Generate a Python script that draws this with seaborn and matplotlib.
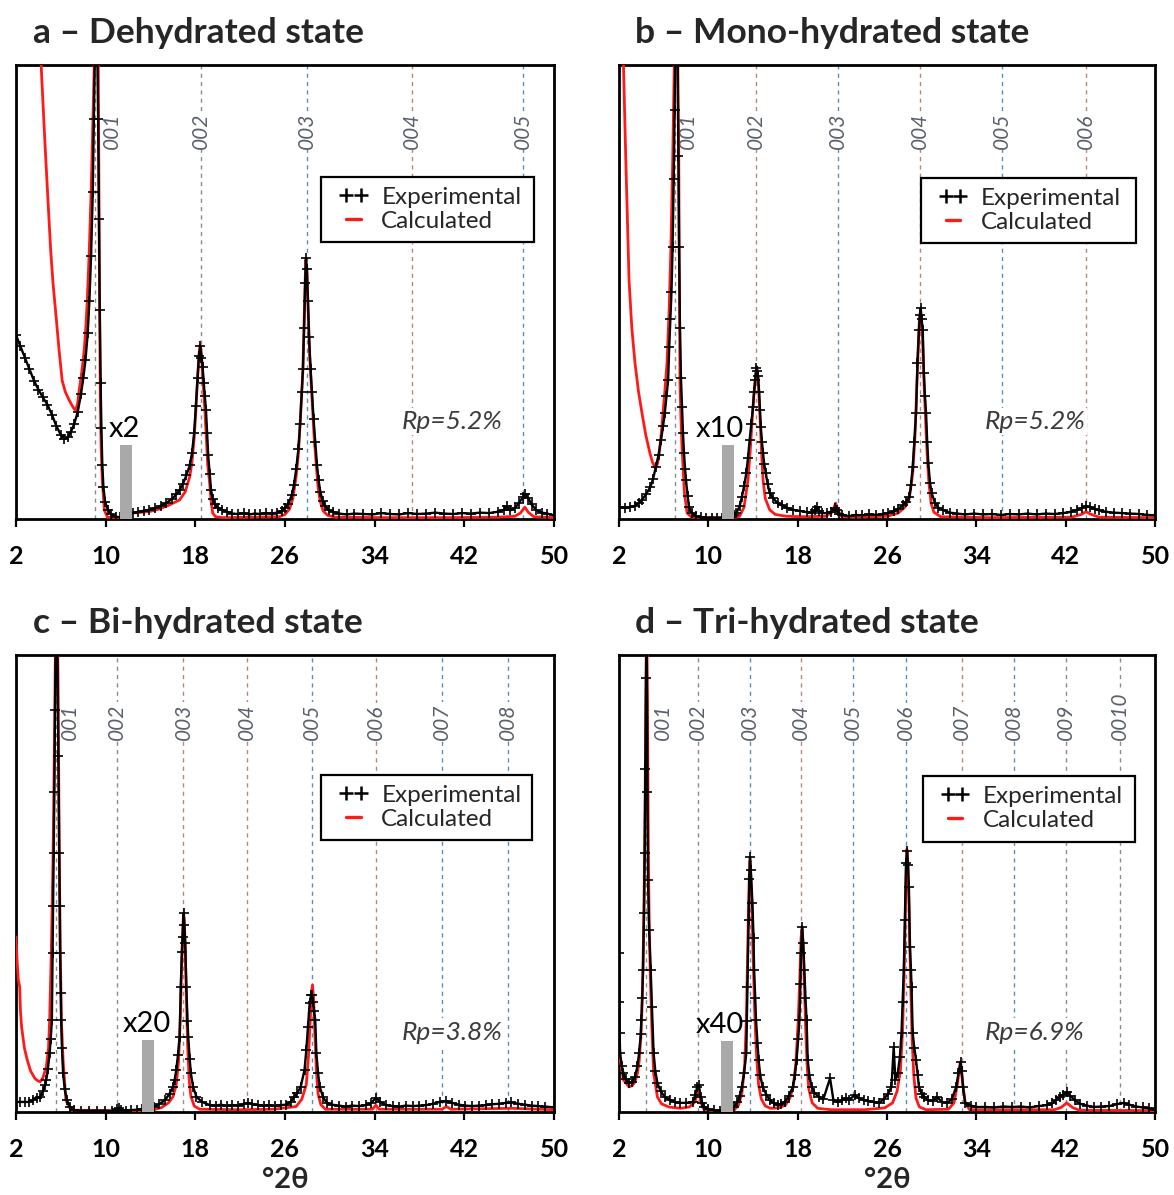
import matplotlib
matplotlib.use("Agg")
import matplotlib.pyplot as plt
from matplotlib.lines import Line2D
from matplotlib.patches import Rectangle
import seaborn as sns

# ---------------------------------------------------------------------------
# XRD profiles, °2θ versus intensity (percent of the panel height).
# ---------------------------------------------------------------------------

# a - dehydrated
a_exp_x = [2.0, 2.4, 2.8, 3.2, 3.6, 4.0, 4.4, 4.8, 5.2, 5.6, 6.0, 6.3, 6.6, 6.9, 7.2, 7.5, 7.8, 8.0,
           8.2, 8.4, 8.55, 8.7, 8.85, 8.95, 9.05, 9.15, 9.25, 9.33, 9.4, 9.47, 9.55, 9.62, 9.7, 9.8,
           9.95, 10.2, 10.5, 10.9, 11.3,
           12.4, 12.9, 13.4, 13.9, 14.4, 14.9, 15.4, 15.9, 16.3, 16.6, 16.9, 17.2, 17.5, 17.7, 17.9,
           18.05, 18.2, 18.32, 18.45, 18.55, 18.65, 18.75, 18.85, 18.95, 19.05, 19.15, 19.28, 19.4,
           19.55, 19.75, 20.0, 20.4, 20.8, 21.3, 21.8, 22.3, 22.8, 23.3, 23.8, 24.3, 24.8, 25.3, 25.7,
           26.0, 26.3, 26.6, 26.8, 27.0, 27.2, 27.35, 27.5, 27.6, 27.7, 27.8, 27.87, 27.95, 28.05,
           28.15, 28.28, 28.4, 28.55, 28.7, 28.85, 29.0, 29.15, 29.35, 29.6, 29.9, 30.3, 30.8, 31.5,
           32.2, 33.0, 33.8, 34.6, 35.4, 36.2, 37.0, 37.8, 38.6, 39.4, 40.2, 41.0, 41.8, 42.6, 43.4,
           44.2, 45.0, 45.5, 45.8, 46.1, 46.5, 46.9, 47.2, 47.45, 47.7, 48.0, 48.4, 48.9, 49.4, 50.0]
a_exp_y = [40.5, 38.0, 35.5, 33.0, 30.5, 28.5, 26.8, 25.2, 23.0, 20.5, 18.5, 17.6, 18.0, 19.2, 21.0,
           23.5, 27.5, 31.0, 35.0, 41.0, 48.0, 58.0, 72.0, 88.0, 105.0, 112.0, 104.0, 88.0, 66.0,
           46.0, 30.0, 20.0, 12.0, 7.0, 3.8, 2.0, 1.0, 0.5, 0.4,
           1.3, 1.6, 1.8, 2.0, 2.4, 2.9, 3.5, 4.4, 5.4, 6.4, 7.8, 9.6, 11.8, 14.5, 19.0, 25.0, 31.0,
           36.0, 38.0, 35.5, 33.5, 30.0, 27.0, 24.0, 19.0, 14.0, 10.0, 6.4, 4.5, 3.2, 2.5, 2.0, 1.6,
           1.2, 1.1, 1.3, 1.0, 1.2, 1.1, 1.3, 1.2, 1.4, 1.8, 2.4, 3.4, 5.2, 7.5, 11.0, 15.5, 21.0,
           28.0, 33.0, 42.0, 52.0, 57.5, 55.0, 48.0, 40.0, 33.0, 28.0, 22.0, 17.0, 12.0, 8.5, 6.0,
           4.0, 2.8, 2.0, 1.5, 1.2, 1.0, 1.2, 1.1, 1.0, 1.3, 1.1, 1.0, 1.3, 1.1, 1.2, 1.4, 1.2, 1.1,
           1.3, 1.2, 1.4, 1.3, 1.6, 2.0, 2.8, 1.9, 2.4, 3.6, 4.8, 5.4, 4.6, 3.2, 2.0, 1.4, 1.2, 0.8]
a_calc_x = [3.8, 4.1, 4.3, 4.6, 4.9, 5.1, 5.3, 5.58, 5.85, 6.12, 6.4, 6.74, 7.0, 7.2, 7.34, 7.5, 7.64,
            7.85, 8.09, 8.25, 8.36, 8.54, 8.7, 8.8, 8.98, 9.1, 9.22, 9.34, 9.43, 9.52, 9.6, 9.7, 9.88,
            10.15, 10.6, 11.3,
            12.3, 12.8, 13.3, 14.0, 14.8, 15.6, 16.6, 17.1, 17.5, 17.7, 17.9, 18.05, 18.2, 18.32,
            18.42, 18.5, 18.6, 18.7, 18.85, 18.98, 19.1, 19.28, 19.4, 19.55, 19.8, 20.5, 25.5, 26.0,
            26.4, 26.7, 27.0, 27.2, 27.4, 27.6, 27.75, 27.85, 27.95, 28.05, 28.2, 28.4, 28.6, 28.77,
            28.95, 29.13, 29.4, 29.8, 30.5, 35.0, 40.0, 45.0, 46.5, 47.0, 47.4, 47.7, 48.2, 50.0]
a_calc_y = [125.0, 108.0, 97.0, 82.0, 68.0, 59.0, 52.0, 44.5, 37.0, 30.5, 28.0, 26.2, 25.0, 24.2,
            24.0, 25.5, 28.4, 32.0, 37.2, 43.0, 48.2, 59.3, 72.0, 81.3, 100.0, 115.0, 110.0, 100.0,
            59.0, 26.0, 15.0, 8.6, 2.0, 0.4, 0.3, 0.3,
            1.3, 1.4, 1.5, 1.7, 2.2, 3.0, 4.2, 6.0, 9.3, 12.5, 18.0, 24.0, 31.0, 36.0, 38.3, 37.5,
            34.0, 30.0, 24.0, 18.0, 12.0, 7.9, 4.0, 1.3, 0.5, 0.3, 0.5, 1.0, 2.2, 4.5, 9.5, 14.5,
            23.3, 33.0, 48.0, 57.0, 55.0, 47.0, 36.0, 27.0, 18.0, 12.5, 7.0, 4.0, 1.8, 0.8, 0.4, 0.3,
            0.3, 0.4, 0.6, 1.3, 2.6, 1.5, 0.5, 0.3]

# b - mono-hydrated
b_exp_x = [2.0, 2.5, 3.0, 3.4, 3.8, 4.06, 4.4, 4.8, 5.05, 5.3, 5.55, 5.76, 5.95, 6.1, 6.25, 6.4, 6.5,
           6.6, 6.7, 6.8, 6.9, 6.98, 7.05, 7.15, 7.25, 7.32, 7.38, 7.46, 7.55, 7.64, 7.73, 7.82, 7.92,
           8.0, 8.15, 8.27, 8.5, 8.9, 9.3, 9.8, 10.3, 10.8, 11.2,
           12.3, 12.5, 12.8, 13.0, 13.2, 13.4, 13.55, 13.7, 13.85, 14.0, 14.1, 14.2, 14.3, 14.38,
           14.45, 14.55, 14.62, 14.7, 14.8, 14.9, 15.0, 15.15, 15.3, 15.5, 15.8, 16.2, 16.6, 17.0,
           17.6, 18.2, 18.8, 19.3, 19.55, 19.7, 19.9, 20.2, 20.6, 21.0, 21.3, 21.5, 21.7, 22.0, 22.6,
           23.2, 23.8, 24.4, 25.0, 25.6, 26.1, 26.6, 27.0, 27.4, 27.7, 28.0, 28.15, 28.3, 28.45,
           28.6, 28.73, 28.86, 28.95, 29.02, 29.1, 29.2, 29.3, 29.4, 29.5, 29.6, 29.7, 29.85, 30.0,
           30.3, 30.6, 31.0, 31.6, 32.3, 33.0, 33.8, 34.6, 35.4, 36.2, 37.0, 37.8, 38.6, 39.4, 40.2,
           41.0, 41.8, 42.5, 43.0, 43.5, 43.8, 44.2, 44.6, 45.0, 45.6, 46.3, 47.0, 47.8, 48.6, 49.3,
           50.0]
b_exp_y = [2.6, 2.5, 2.6, 2.9, 3.6, 4.2, 5.4, 7.0, 8.8, 11.5, 14.2, 17.4, 20.5, 23.3, 27.0, 30.6,
           37.9, 44.0, 50.0, 60.0, 75.0, 90.0, 105.0, 112.0, 100.0, 80.0, 60.0, 42.0, 31.0, 24.7,
           19.0, 14.5, 11.0, 8.6, 5.0, 2.6, 1.4, 0.6, 0.4, 0.3, 0.3, 0.3, 0.3,
           0.8, 1.3, 2.8, 4.8, 7.2, 10.1, 13.5, 17.4, 21.0, 24.7, 28.0, 30.6, 33.3, 32.5, 31.5, 28.0,
           24.0, 20.3, 17.0, 14.5, 12.2, 10.1, 7.8, 5.7, 4.6, 3.5, 3.0, 2.5, 2.0, 1.8, 1.5, 1.3, 2.0,
           2.6, 1.8, 1.3, 1.3, 1.6, 2.4, 2.0, 1.2, 0.9, 0.6, 0.9, 0.8, 1.0, 0.9, 1.1, 1.3, 1.7, 2.2,
           3.0, 3.8, 4.8, 7.5, 11.5, 17.0, 23.3, 34.4, 41.6, 45.0, 46.5, 44.0, 41.6, 32.2, 27.0, 23.3,
           17.0, 12.3, 8.0, 5.7, 3.5, 2.5, 2.0, 1.4, 1.2, 1.0, 1.2, 1.0, 1.1, 0.9, 1.1, 1.0, 1.2, 1.0,
           1.2, 1.1, 1.3, 1.6, 2.0, 2.5, 2.8, 2.6, 2.2, 1.9, 1.6, 1.4, 1.3, 1.2, 1.1, 0.9, 0.8]
b_calc_x = [2.25, 2.4, 2.6, 2.9, 3.15, 3.43, 3.75, 4.06, 4.4, 4.77, 5.0, 5.27, 5.45, 5.6, 5.77, 5.94,
            6.1, 6.3, 6.5, 6.65, 6.8, 6.95, 7.1, 7.25, 7.35, 7.46, 7.55, 7.64, 7.86, 8.1, 8.5, 11.2,
            12.3, 12.8, 13.2, 13.55, 13.75, 13.95, 14.1, 14.25, 14.35, 14.45, 14.6, 14.75, 14.9,
            15.1, 15.5, 16.0, 17.0, 18.5, 20.5, 21.1, 21.4, 21.6, 21.9, 23.0, 26.0, 27.0, 27.6, 28.0,
            28.3, 28.5, 28.65, 28.8, 28.9, 28.98, 29.08, 29.18, 29.3, 29.45, 29.6, 29.75, 29.95, 30.2,
            30.8, 35.0, 42.5, 43.4, 43.8, 44.3, 45.0, 50.0]
b_calc_y = [130.0, 100.0, 80.0, 52.6, 42.0, 34.4, 28.0, 23.3, 18.5, 14.5, 12.5, 11.2, 12.2, 14.5,
            18.5, 23.3, 28.0, 34.4, 46.7, 60.0, 78.0, 100.0, 118.0, 105.0, 80.0, 30.0, 22.0, 15.9,
            5.7, 1.3, 0.4, 0.3,
            0.3, 0.6, 2.6, 8.6, 15.0, 23.0, 28.0, 32.0, 33.5, 31.0, 24.0, 15.5, 8.6, 4.5, 2.0, 1.0,
            0.6, 0.5, 0.6, 1.5, 3.5, 2.0, 0.6, 0.4, 0.6, 1.3, 2.6, 4.6, 10.0, 18.0, 28.0, 38.0, 44.0,
            45.5, 44.0, 40.0, 31.0, 22.0, 14.0, 8.0, 3.5, 1.5, 0.5, 0.3, 0.4, 1.0, 1.6, 1.0, 0.4, 0.3]

# c - bi-hydrated
c_exp_x = [2.0, 2.4, 2.8, 3.16, 3.5, 3.85, 4.15, 4.4, 4.6, 4.7, 4.85, 5.0, 5.1, 5.2, 5.26, 5.31, 5.36,
           5.42, 5.48, 5.55, 5.62, 5.7, 5.78, 5.85, 5.9, 5.94, 6.0, 6.03, 6.1, 6.2, 6.35, 6.54, 6.8,
           7.2, 7.8, 8.5, 9.2, 9.9, 10.6, 11.0, 11.2, 11.4, 11.8, 12.3, 12.8, 13.2,
           14.3, 14.8, 15.3, 15.7, 16.0, 16.15, 16.3, 16.45, 16.6, 16.7, 16.8, 16.86, 16.95, 17.02,
           17.1, 17.2, 17.3, 17.37, 17.5, 17.6, 17.8, 18.1, 18.6, 19.3, 19.8, 20.3, 20.8, 21.3, 21.8,
           22.3, 22.7, 23.1, 23.6, 24.1, 24.6, 25.1, 25.6, 26.1, 26.5, 26.8, 27.1, 27.4, 27.74, 27.9,
           28.05, 28.2, 28.32, 28.4, 28.5, 28.6, 28.7, 28.8, 28.95, 29.1, 29.4, 29.75, 30.2, 30.8,
           31.4, 32.0, 32.6, 33.2, 33.7, 34.1, 34.5, 35.0, 35.6, 36.2, 36.8, 37.4, 38.0, 38.6, 39.2,
           39.8, 40.4, 40.9, 41.5, 42.1, 42.7, 43.3, 43.9, 44.5, 45.1, 45.7, 46.2, 46.8, 47.4, 48.0,
           48.6, 49.2, 50.0]
c_exp_y = [2.2, 2.2, 2.2, 2.2, 2.6, 3.0, 3.3, 4.5, 6.0, 7.0, 9.5, 12.9, 16.0, 20.1, 34.8, 45.0, 56.7,
           70.0, 88.0, 105.0, 110.0, 100.0, 78.0, 56.7, 45.0, 34.8, 26.0, 20.1, 14.0, 8.5, 5.0, 2.6,
           1.2, 0.4, 0.3, 0.3, 0.3, 0.3, 0.2, 0.6, 0.9, 0.5, 0.3, 0.4, 0.5, 0.6,
           1.1, 1.8, 2.6, 4.0, 5.5, 7.0, 9.2, 12.5, 16.4, 27.4, 35.0, 38.3, 43.5, 41.0, 37.0, 27.4,
           20.0, 16.4, 11.5, 8.5, 5.5, 3.3, 2.2, 1.5, 1.4, 1.6, 1.3, 1.5, 1.4, 1.7, 2.0, 1.7, 1.5,
           1.4, 1.5, 1.3, 1.5, 1.6, 2.2, 3.3, 4.2, 5.5, 9.2, 13.5, 18.6, 23.9, 25.5, 25.6, 24.0, 22.0,
           20.1, 12.9, 8.5, 5.5, 3.2, 2.0, 1.6, 1.4, 1.2, 1.4, 1.3, 1.5, 2.0, 3.1, 2.2, 1.5, 1.3,
           1.2, 1.4, 1.3, 1.4, 1.5, 1.8, 2.2, 2.4, 2.0, 1.6, 1.4, 1.3, 1.4, 1.5, 1.7, 1.8, 2.0, 2.1,
           1.8, 1.6, 1.4, 1.3, 1.2, 1.0]
c_calc_x = [2.0, 2.1, 2.2, 2.33, 2.4, 2.5, 2.75, 3.0, 3.3, 3.67, 3.9, 4.15, 4.4, 4.7, 4.9, 5.0, 5.15,
            5.3, 5.45, 5.55, 5.65, 5.75, 5.85, 5.95, 6.05, 6.2, 6.45, 6.9, 10.8, 11.1, 11.4, 13.2,
            14.3, 15.0, 15.6, 16.0, 16.3, 16.5, 16.65, 16.78, 16.88, 16.95, 17.02, 17.1, 17.2, 17.32,
            17.45, 17.6, 17.9, 18.4, 22.0, 25.0, 27.0, 27.5, 27.9, 28.1, 28.25, 28.38, 28.45, 28.55,
            28.65, 28.8, 28.95, 29.2, 29.6, 33.8, 34.1, 34.4, 40.0, 40.4, 40.8, 46.2, 50.0]
c_calc_y = [38.3, 33.0, 29.0, 27.4, 22.0, 18.6, 14.0, 11.4, 9.0, 7.4, 6.9, 6.6, 7.5, 9.8, 14.0, 20.0,
            35.0, 55.0, 85.0, 110.0, 115.0, 95.0, 60.0, 35.0, 20.0, 11.4, 2.6, 0.4, 0.3, 0.8, 0.3,
            0.3, 0.5, 1.0, 2.0, 3.3, 6.0, 11.0, 20.0, 32.0, 40.0, 43.5, 42.0, 35.0, 25.0, 14.0, 7.0,
            3.5, 1.3, 0.6, 0.5, 0.6, 1.2, 2.8, 6.0, 12.5, 20.0, 26.5, 27.8, 25.0, 18.0, 9.0, 4.0, 1.6,
            0.6, 0.6, 1.5, 0.6, 0.6, 1.2, 0.6, 0.8, 0.5]

# d - tri-hydrated
d_exp_x = [2.0, 2.02, 2.05, 2.1, 2.25, 2.4, 2.6, 2.9, 3.15, 3.43, 3.65, 3.8, 3.95, 4.0, 4.08, 4.15,
           4.24, 4.3, 4.36, 4.42, 4.48, 4.55, 4.6, 4.7, 4.84, 4.95, 5.1, 5.25, 5.44, 5.75, 6.1, 6.6,
           7.0, 7.46, 8.0, 8.6, 8.85, 9.0, 9.16, 9.3, 9.45, 9.63, 10.0, 10.5, 11.0,
           12.3, 12.6, 12.8, 13.0, 13.2, 13.4, 13.45, 13.5, 13.6, 13.68, 13.73, 13.8, 13.95, 14.05,
           14.1, 14.2, 14.27, 14.4, 14.5, 14.65, 14.86, 15.2, 15.5, 15.85, 16.2, 16.5, 16.86, 17.2,
           17.57, 17.75, 17.9, 18.05, 18.16, 18.25, 18.3, 18.4, 18.5, 18.6, 18.7, 18.8, 18.9, 19.05,
           19.25, 19.5, 19.9, 20.3, 20.9, 21.2, 21.6, 22.0, 22.3, 22.6, 23.1, 23.5, 23.9, 24.3, 24.8,
           25.3, 25.7, 26.1, 26.4, 26.6, 26.75, 26.97, 27.15, 27.3, 27.4, 27.5, 27.6, 27.7, 27.8,
           27.88, 27.96, 28.05, 28.15, 28.2, 28.3, 28.45, 28.6, 28.75, 28.86, 29.1, 29.3, 29.7, 30.1,
           30.5, 30.9, 31.4, 31.8, 32.2, 32.4, 32.6, 32.7, 32.8, 33.0, 33.5, 34.0, 34.8, 35.6, 36.4,
           37.2, 38.0, 38.8, 39.6, 40.3, 40.8, 41.1, 41.5, 41.8, 42.1, 42.4, 42.8, 43.3, 43.9, 44.5,
           45.2, 45.9, 46.6, 47.2, 47.7, 48.3, 48.9, 49.5, 50.0]
d_exp_y = [34.8, 24.0, 17.3, 12.9, 10.0, 8.5, 7.2, 6.3, 6.6, 7.7, 10.0, 12.9, 17.0, 20.1, 25.0, 31.0,
           43.5, 56.7, 75.0, 95.0, 105.0, 70.0, 50.8, 39.8, 31.0, 23.0, 12.9, 9.0, 6.3, 4.5, 3.3,
           2.6, 2.2, 2.0, 2.0, 2.2, 3.8, 5.5, 5.9, 3.3, 2.0, 1.1, 0.6, 0.4, 0.3,
           1.1, 2.2, 3.5, 5.5, 8.5, 12.9, 20.0, 27.4, 42.0, 51.0, 55.8, 53.0, 45.7, 38.0, 31.0, 25.0,
           20.1, 15.0, 11.4, 8.0, 5.5, 3.8, 2.6, 2.0, 1.5, 1.8, 2.2, 3.5, 5.5, 8.0, 11.4, 16.0, 20.1,
           28.0, 34.8, 40.5, 37.0, 31.0, 25.0, 20.1, 11.4, 8.0, 5.5, 4.2, 3.3, 2.8, 7.4, 2.6, 2.2,
           2.6, 3.0, 2.6, 3.7, 3.0, 2.6, 2.4, 2.2, 2.0, 2.8, 4.0, 5.5, 14.2, 7.0, 8.5, 12.0, 17.3,
           24.0, 31.0, 42.0, 54.5, 57.1, 54.0, 49.2, 36.1, 31.0, 27.4, 17.3, 14.0, 11.4, 8.0, 5.5,
           4.0, 3.3, 2.6, 2.4, 3.3, 2.2, 2.0, 2.8, 5.5, 8.5, 11.0, 9.0, 5.5, 2.0, 1.4, 1.1, 1.1, 1.0,
           1.2, 1.1, 1.2, 1.0, 1.3, 1.5, 1.9, 2.6, 3.3, 3.8, 4.4, 3.6, 2.6, 1.8, 1.4, 1.1, 1.2, 1.3,
           1.7, 2.0, 1.6, 1.2, 1.0, 0.8, 0.5]
d_calc_x = [2.0, 2.1, 2.4, 2.9, 3.2, 3.43, 3.65, 3.8, 3.95, 4.05, 4.15, 4.25, 4.33, 4.4, 4.47, 4.55,
            4.62, 4.7, 4.8, 4.95, 5.1, 5.44, 5.8, 6.45, 7.5, 8.3, 8.8, 9.0, 9.15, 9.35, 9.6, 10.5,
            11.2, 12.3, 12.7, 13.0, 13.25, 13.4, 13.5, 13.6, 13.68, 13.73, 13.8, 13.9, 14.0, 14.15,
            14.3, 14.5, 14.75, 15.1, 15.6, 16.3, 16.9, 17.3, 17.6, 17.85, 18.05, 18.2, 18.3, 18.38,
            18.48, 18.6, 18.72, 18.85, 19.0, 19.3, 19.8, 21.0, 24.0, 25.8, 26.5, 26.9, 27.2, 27.4,
            27.55, 27.68, 27.78, 27.88, 27.98, 28.1, 28.25, 28.4, 28.6, 28.9, 29.5, 31.5, 32.0, 32.3,
            32.55, 32.75, 33.0, 33.4, 41.0, 41.6, 42.1, 42.6, 43.2, 50.0]
d_calc_y = [17.3, 11.4, 7.0, 5.5, 5.8, 6.6, 8.5, 11.0, 16.0, 22.0, 32.0, 48.0, 65.0, 90.0, 110.0,
            90.0, 60.0, 42.0, 30.0, 18.0, 8.5, 3.3, 1.8, 1.1, 0.8, 1.1, 2.2, 4.2, 4.5, 2.0, 0.6, 0.3,
            0.3, 0.4, 1.5, 4.0, 10.0, 20.0, 32.0, 45.0, 53.0, 55.0, 52.0, 45.0, 35.0, 22.0, 13.0,
            6.0, 2.8, 1.3, 0.8, 0.9, 1.5, 3.0, 5.5, 11.0, 20.0, 30.0, 38.0, 40.0, 37.0, 28.0, 18.0,
            10.0, 5.0, 2.0, 0.8, 0.5, 0.5, 0.9, 2.0, 4.5, 9.0, 18.0, 32.0, 48.0, 57.5, 54.0, 44.0,
            30.0, 16.0, 8.0, 3.0, 1.1, 0.5, 0.6, 2.0, 6.0, 10.7, 7.0, 2.0, 0.5, 0.5, 1.0, 2.0, 1.0,
            0.4, 0.3]

# 00l reflection positions (°2θ) and their labels
a_hkl_pos = [9.07, 18.47, 27.96, 37.36, 47.26]
b_hkl_pos = [7.0, 14.29, 21.6, 28.93, 36.27, 43.8]
c_hkl_pos = [5.58, 11.01, 16.94, 22.6, 28.38, 34.1, 40.0, 45.9]
d_hkl_pos = [4.4, 9.05, 13.73, 18.3, 22.98, 27.7, 32.7, 37.4, 42.0, 46.9]
a_hkl_labels = ["001", "002", "003", "004", "005"]
b_hkl_labels = ["001", "002", "003", "004", "005", "006"]
c_hkl_labels = ["001", "002", "003", "004", "005", "006", "007", "008"]
d_hkl_labels = ["001", "002", "003", "004", "005", "006", "007", "008", "009", "0010"]

titles = ["a – Dehydrated state", "b – Mono-hydrated state",
          "c – Bi-hydrated state", "d – Tri-hydrated state"]
rp_labels = ["Rp=5.2%", "Rp=5.2%", "Rp=3.8%", "Rp=6.9%"]
scale_labels = ["x2", "x10", "x20", "x40"]
x_ticks = [2, 10, 18, 26, 34, 42, 50]
legend_labels = ["Experimental", "Calculated"]

# ---------------------------------------------------------------------------
# Layout and styling
# ---------------------------------------------------------------------------
FONT = ["Lato", "DejaVu Sans"]
sns.set_theme(style="white")
plt.rcParams["font.family"] = FONT

W, H = 1174, 1195
LINE_COLORS = {"b": "#5a8fb8", "r": "#b38a7c", "g": "#8c8c8c"}

panels = [
    dict(rect=(16, 65, 538, 454), title_xy=(33, 33),
         exp=(a_exp_x, a_exp_y), calc=(a_calc_x, a_calc_y),
         hkl=(a_hkl_pos, a_hkl_labels), hkl_colors="ggbrb", lbl001_dx=1.5,
         brk=(11.28, 12.32, 16.3), scale_x=11.7,
         legend_box=(0.567, 0.610, 0.963, 0.753), rp_xy=(0.81, 0.214), xlabel=False),
    dict(rect=(619, 65, 536, 454), title_xy=(635, 33),
         exp=(b_exp_x, b_exp_y), calc=(b_calc_x, b_calc_y),
         hkl=(b_hkl_pos, b_hkl_labels), hkl_colors="grbrbr", lbl001_dx=1.15,
         brk=(11.2, 12.3, 16.3), scale_x=11.0,
         legend_box=(0.563, 0.608, 0.965, 0.751), rp_xy=(0.776, 0.214), xlabel=False),
    dict(rect=(16, 655, 538, 457), title_xy=(33, 623),
         exp=(c_exp_x, c_exp_y), calc=(c_calc_x, c_calc_y),
         hkl=(c_hkl_pos, c_hkl_labels), hkl_colors="ggrrbrbb", lbl001_dx=1.2,
         brk=(13.28, 14.27, 15.75), scale_x=13.7,
         legend_box=(0.567, 0.595, 0.959, 0.737), rp_xy=(0.81, 0.175), xlabel=True),
    dict(rect=(619, 655, 536, 457), title_xy=(635, 623),
         exp=(d_exp_x, d_exp_y), calc=(d_calc_x, d_calc_y),
         hkl=(d_hkl_pos, d_hkl_labels), hkl_colors="ggbrbbrbgg", lbl001_dx=1.5,
         brk=(11.15, 12.2, 15.6), scale_x=11.0,
         legend_box=(0.567, 0.591, 0.963, 0.735), rp_xy=(0.776, 0.175), xlabel=True),
]

fig = plt.figure(figsize=(W / 100, H / 100), dpi=100)
fig.patch.set_facecolor("white")

for i, p in enumerate(panels):
    left, top, width, height = p["rect"]
    ax = fig.add_axes([left / W, 1 - (top + height) / H, width / W, height / H])
    ax.set_facecolor("white")

    # dashed 00l reflection markers
    pos, labels = p["hkl"]
    for j, (xp, lab) in enumerate(zip(pos, labels)):
        ax.axvline(xp, color=LINE_COLORS[p["hkl_colors"][j]], lw=1.0,
                   ls=(0, (3, 3)), zorder=1)
        tx = xp + (p["lbl001_dx"] if j == 0 else 0.0)
        ax.text(tx, 81.5, lab, rotation=90, ha="center", va="bottom",
                style="italic", fontsize=15, color="#5a616b", zorder=1.5,
                bbox=dict(fc="white", ec="none", pad=0.8))

    # calculated and experimental patterns
    cx, cy = p["calc"]
    sns.lineplot(x=cx, y=cy, ax=ax, color="#ff1a1a", lw=2.0, sort=False,
                 estimator=None, zorder=3)
    ex, ey = p["exp"]
    sns.lineplot(x=ex, y=ey, ax=ax, color="black", lw=1.7, sort=False,
                 estimator=None, marker="+", markersize=6.5, mew=1.2,
                 mec="black", zorder=4)

    # intensity scale-change marker
    b0, b1, bh = p["brk"]
    ax.bar([(b0 + b1) / 2], [bh], width=b1 - b0, color="#a9a9a9",
           edgecolor="none", zorder=5)
    ax.text(p["scale_x"], bh + 0.6, scale_labels[i], ha="center", va="bottom",
            fontsize=21, color="black", zorder=6)

    # goodness-of-fit note
    ax.text(p["rp_xy"][0], p["rp_xy"][1], rp_labels[i], transform=ax.transAxes,
            ha="center", va="center", style="italic", fontsize=19,
            color="#3c3c3c", zorder=2,
            bbox=dict(fc="white", ec="none", pad=1.5))

    # legend inside a square-cornered box
    lx0, ly0, lx1, ly1 = p["legend_box"]
    ax.add_patch(Rectangle((lx0, ly0), lx1 - lx0, ly1 - ly0,
                           transform=ax.transAxes, facecolor="white",
                           edgecolor="black", lw=1.6, zorder=6.5))
    h_exp = Line2D([], [], ls="none", marker="+", color="black",
                   markersize=10, mew=1.8)
    h_calc = Line2D([], [], color="#ff1a1a", lw=2.4)
    leg = ax.legend([h_exp, h_calc], legend_labels, loc="upper left",
                    bbox_to_anchor=(lx0 + 0.033, ly1 - 0.021), borderaxespad=0,
                    numpoints=2, frameon=False, fontsize=17.5,
                    handlelength=1.2, handletextpad=0.55, borderpad=0.0,
                    labelspacing=0.12)
    leg.set_zorder(7)

    ax.set_xlim(2, 50)
    ax.set_ylim(0, 100)
    ax.set_yticks([])
    ax.set_ylabel("")
    ax.set_xticks(x_ticks)
    ax.set_xticklabels([str(t) for t in x_ticks], fontweight="bold")
    ax.tick_params(axis="x", direction="out", length=6, width=1.6,
                   labelsize=18, pad=13, colors="black", bottom=True)
    for sp in ax.spines.values():
        sp.set_visible(True)
        sp.set_color("black")
        sp.set_linewidth(2.0)
    if p["xlabel"]:
        ax.set_xlabel("°2θ", fontsize=21, fontweight="bold", labelpad=4)
    else:
        ax.set_xlabel("")

    fig.text(p["title_xy"][0] / W, 1 - p["title_xy"][1] / H, titles[i],
             fontsize=25.5, fontweight="bold", ha="left", va="center")

fig.savefig("out.png", dpi=100, facecolor="white")
